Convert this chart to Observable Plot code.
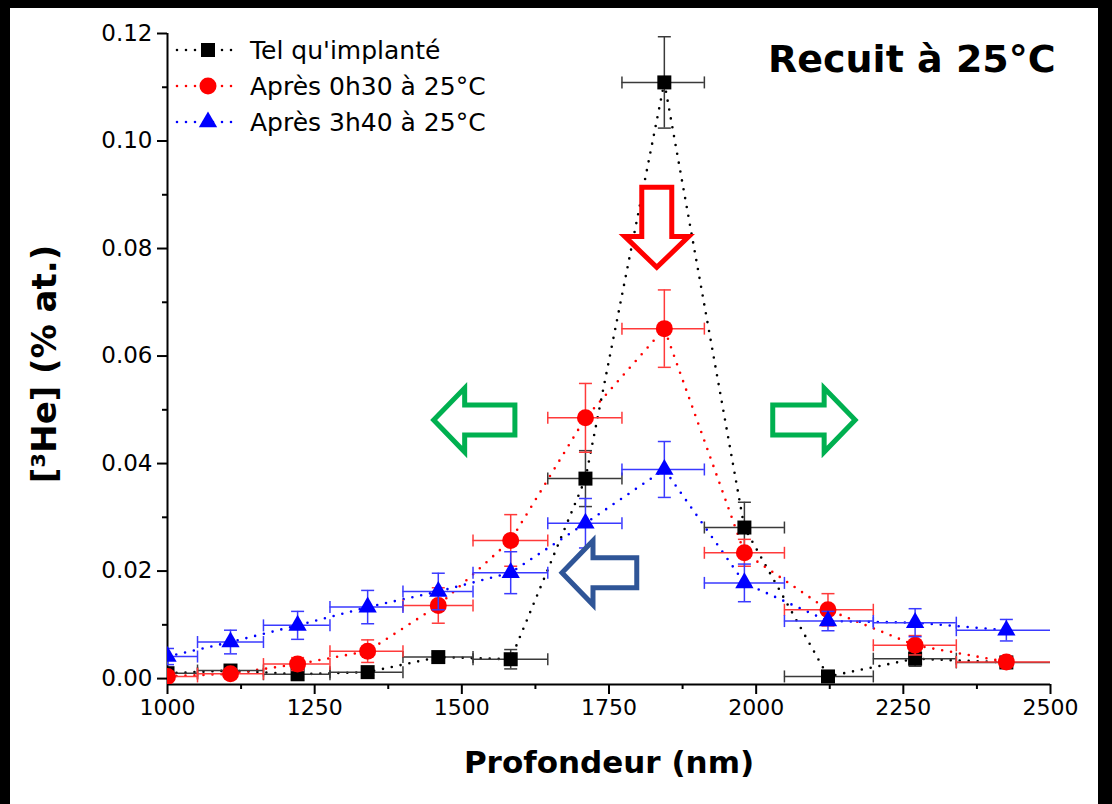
<!DOCTYPE html>
<html>
<head>
<meta charset="utf-8">
<script src="https://cdn.jsdelivr.net/npm/d3@7"></script>
<script src="https://cdn.jsdelivr.net/npm/@observablehq/plot@0.6"></script>
<style>
  html, body { margin: 0; padding: 0; background: #000; width: 1112px; height: 804px; overflow: hidden; }
  #panel { position: absolute; left: 10px; top: 8px; width: 1088px; height: 796px; background: #fff; }
  #legend { position: absolute; left: 173px; top: 32px; font-family: "DejaVu Sans", sans-serif; font-size: 25px; color: #000; }
  #legend .row { display: flex; align-items: center; height: 36px; }
  #legend svg { width: 70px; height: 36px; margin-right: 7px; }
  #title { position: absolute; left: 768px; top: 40px; font-family: "DejaVu Sans", sans-serif; font-weight: bold; font-size: 38px; line-height: 38px; color: #000; white-space: nowrap; }
</style>
</head>
<body>
<div id="panel"></div>
<div id="legend"></div>
<div id="title">Recuit à 25°C</div>
<script>
// ---- data ----
const depth = [1000, 1107, 1221, 1340, 1460, 1583, 1710, 1844, 1980, 2122, 2270, 2425];
const binLo = [950, 1051, 1163, 1276, 1400, 1519, 1646, 1772, 1912, 2048, 2199, 2340];
const binHi = [1051, 1163, 1276, 1400, 1519, 1646, 1772, 1912, 2048, 2199, 2340, 2510];

const seriesNames = ["Tel qu'implanté", "Après 0h30 à 25°C", "Après 3h40 à 25°C"];
const implante   = [0.0010, 0.0015, 0.0008, 0.0012, 0.0040, 0.0036, 0.0372, 0.1109, 0.0281, 0.0004, 0.0037, 0.0030];
const implanteErr= [0.0005, 0.0005, 0.0005, 0.0006, 0.0006, 0.0018, 0.0052, 0.0085, 0.0047, 0.0008, 0.0014, 0.0008];
const r0h30      = [0.0004, 0.0009, 0.0027, 0.0051, 0.0136, 0.0257, 0.0485, 0.0651, 0.0234, 0.0128, 0.0062, 0.0031];
const r0h30Err   = [0.0004, 0.0006, 0.0012, 0.0021, 0.0033, 0.0048, 0.0064, 0.0072, 0.0025, 0.0030, 0.0018, 0.0008];
const r3h40      = [0.0041, 0.0068, 0.0099, 0.0133, 0.0162, 0.0197, 0.0289, 0.0389, 0.0178, 0.0107, 0.0104, 0.0090];
const r3h40Err   = [0.0015, 0.0022, 0.0026, 0.0031, 0.0034, 0.0039, 0.0046, 0.0052, 0.0035, 0.0018, 0.0026, 0.0020];

const xTicks = [1000, 1250, 1500, 1750, 2000, 2250, 2500];
const xMinorTicks = [1125, 1375, 1625, 1875, 2125, 2375];
const yTicks = [0.00, 0.02, 0.04, 0.06, 0.08, 0.10, 0.12];
const yMinorTicks = [0.01, 0.03, 0.05, 0.07, 0.09, 0.11];

// ---- styles ----
const styles = [
  {color: "#000000", err: "#3a3a3a", symbol: "square", r: 7.9},
  {color: "#ff0000", err: "#ff3a3a", symbol: "circle", r: 8.5},
  {color: "#0000ff", err: "#3a3aff", symbol: "triangle", r: 6.8}
];
const values = [implante, r0h30, r3h40];
const errors = [implanteErr, r0h30Err, r3h40Err];

const tables = values.map((vals, s) => depth.map((d, i) => ({
  series: seriesNames[s], depth: d, lo: binLo[i], hi: binHi[i],
  v: vals[i], e: errors[s][i]
})));

// cap symbols for error bars
const vCap = {draw(ctx, size) { const r = Math.sqrt(size / Math.PI); ctx.moveTo(0, -r); ctx.lineTo(0, r); }};
const hCap = {draw(ctx, size) { const r = Math.sqrt(size / Math.PI); ctx.moveTo(-r, 0); ctx.lineTo(r, 0); }};

const seriesMarks = [];
tables.forEach((t, s) => {
  const st = styles[s];
  seriesMarks.push(Plot.line(t, {x: "depth", y: "v", stroke: st.color, strokeWidth: 2.6, strokeDasharray: "0 9", strokeLinecap: "round", clip: true}));
});
tables.forEach((t, s) => {
  const st = styles[s];
  seriesMarks.push(
    Plot.ruleY(t, {y: "v", x1: "lo", x2: "hi", stroke: st.err, strokeWidth: 1.5, clip: true}),
    Plot.ruleX(t, {x: "depth", y1: d => d.v - d.e, y2: d => d.v + d.e, stroke: st.err, strokeWidth: 1.5, clip: true}),
    Plot.dot(t, {x: "lo", y: "v", symbol: vCap, r: 6, stroke: st.err, fill: "none", strokeWidth: 1.5, clip: true}),
    Plot.dot(t, {x: "hi", y: "v", symbol: vCap, r: 6, stroke: st.err, fill: "none", strokeWidth: 1.5, clip: true}),
    Plot.dot(t, {x: "depth", y: d => d.v - d.e, symbol: hCap, r: 6.5, stroke: st.err, fill: "none", strokeWidth: 1.5, clip: true}),
    Plot.dot(t, {x: "depth", y: d => d.v + d.e, symbol: hCap, r: 6.5, stroke: st.err, fill: "none", strokeWidth: 1.5, clip: true}),
    Plot.dot(t, {x: "depth", y: "v", symbol: st.symbol, r: st.r, fill: st.color, stroke: "none", clip: true})
  );
});

const Y_MIN = -0.0011;
const plot = Plot.plot({
  width: 1088, height: 796,
  marginLeft: 157, marginRight: 48, marginTop: 25, marginBottom: 120,
  style: {fontFamily: "'DejaVu Sans', sans-serif", background: "white", overflow: "visible", color: "#000"},
  x: {domain: [1000, 2500]},
  y: {domain: [Y_MIN, 0.12]},
  marks: [
    Plot.axisX(xTicks, {tickSize: 10, tickPadding: 5, fontSize: 22, strokeWidth: 2, label: null, tickFormat: d => String(d)}),
    Plot.axisX(xMinorTicks, {tickSize: 5, strokeWidth: 2, text: null, label: null}),
    Plot.axisY(yTicks, {tickSize: 10, tickPadding: 5, fontSize: 23, strokeWidth: 2, label: null, tickFormat: d3.format(".2f")}),
    Plot.axisY(yMinorTicks, {tickSize: 5, strokeWidth: 2, text: null, label: null}),
    Plot.ruleX([1000], {y1: Y_MIN, y2: 0.12, stroke: "#000", strokeWidth: 2}),
    Plot.ruleY([Y_MIN], {stroke: "#000", strokeWidth: 2}),
    Plot.text(["Profondeur (nm)"], {frameAnchor: "bottom", dy: 88, fontSize: 31, fontWeight: "bold", fill: "#000"}),
    Plot.text(["[³He] (% at.)"], {frameAnchor: "left", textAnchor: "middle", dx: -122, dy: 5, rotate: -90, fontSize: 34, fontWeight: "bold", fill: "#000"}),
    ...seriesMarks
  ]
});
document.getElementById("panel").appendChild(plot);

// ---- annotation arrows (tail -> tip, in data units) ----
const arrowNotes = [
  {tail: [1591, 0.0480], tip: [1453, 0.0480], color: "#00b050"},
  {tail: [2029, 0.0480], tip: [2169, 0.0480], color: "#00b050"},
  {tail: [1832, 0.0913], tip: [1832, 0.0764], color: "#ff0000"},
  {tail: [1798, 0.0196], tip: [1671, 0.0196], color: "#2f5597"}
];
const sx = plot.scale("x"), sy = plot.scale("y");
const g = d3.select(plot).append("g").attr("class", "arrows");
for (const a of arrowNotes) {
  const p0 = [sx.apply(a.tail[0]), sy.apply(a.tail[1])];
  const p1 = [sx.apply(a.tip[0]), sy.apply(a.tip[1])];
  const len = Math.hypot(p1[0] - p0[0], p1[1] - p0[1]);
  const u = [(p1[0] - p0[0]) / len, (p1[1] - p0[1]) / len];
  const n = [-u[1], u[0]];
  const w = 15, h = 32, hl = 31;
  const b = [p1[0] - u[0] * hl, p1[1] - u[1] * hl];
  const pts = [
    [p0[0] + n[0] * w, p0[1] + n[1] * w],
    [b[0] + n[0] * w, b[1] + n[1] * w],
    [b[0] + n[0] * h, b[1] + n[1] * h],
    p1,
    [b[0] - n[0] * h, b[1] - n[1] * h],
    [b[0] - n[0] * w, b[1] - n[1] * w],
    [p0[0] - n[0] * w, p0[1] - n[1] * w]
  ];
  g.append("path").attr("d", "M" + pts.map(p => p.join(",")).join("L") + "Z")
    .attr("fill", "white").attr("stroke", a.color).attr("stroke-width", 5).attr("stroke-linejoin", "miter");
}

// ---- legend ----
const legend = d3.select("#legend");
seriesNames.forEach((name, s) => {
  const st = styles[s];
  const row = legend.append("div").attr("class", "row");
  const sv = row.append("svg").attr("viewBox", "0 0 70 36");
  sv.append("line").attr("x1", 4).attr("x2", 66).attr("y1", 18).attr("y2", 18)
    .attr("stroke", st.color).attr("stroke-width", 2.6).attr("stroke-dasharray", "0 9").attr("stroke-linecap", "round");
  const sym = {square: d3.symbolSquare, circle: d3.symbolCircle, triangle: d3.symbolTriangle}[st.symbol];
  sv.append("path").attr("transform", "translate(35,18)").attr("d", d3.symbol(sym, Math.PI * st.r * st.r)()).attr("fill", st.color);
  row.append("span").text(name);
});
</script>
</body>
</html>
